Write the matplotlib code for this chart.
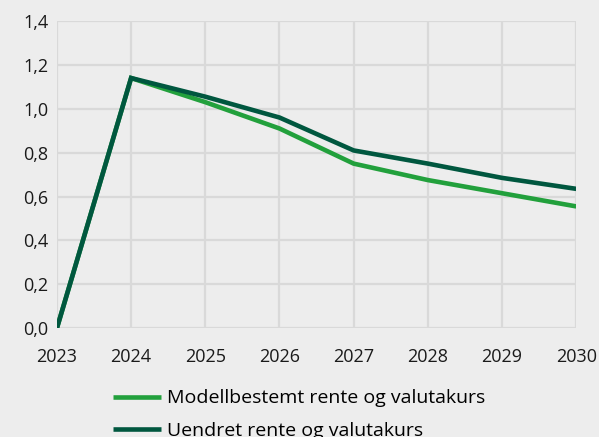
import numpy as np
import matplotlib.pyplot as plt

plt.rcParams['font.family'] = ['Open Sans', 'DejaVu Sans']

years = [2023, 2024, 2025, 2026, 2027, 2028, 2029, 2030]
modell = [0.0, 1.14, 1.03, 0.91, 0.75, 0.675, 0.615, 0.555]
uendret = [0.0, 1.14, 1.055, 0.96, 0.81, 0.75, 0.685, 0.635]
yticks = [0.0, 0.2, 0.4, 0.6, 0.8, 1.0, 1.2, 1.4]

bg = '#ededed'
fig = plt.figure(figsize=(5.99, 4.37), dpi=100, facecolor=bg)
ax = fig.add_axes([0.095, 0.249, 0.867, 0.703], facecolor=bg)

ax.plot(years, modell, color='#22a03c', lw=3.3, label='Modellbestemt rente og valutakurs',
        solid_joinstyle='miter', solid_capstyle='butt', zorder=3)
ax.plot(years, uendret, color='#00573f', lw=3.3, label='Uendret rente og valutakurs',
        solid_joinstyle='miter', solid_capstyle='butt', zorder=4)

ax.set_xlim(2023, 2030)
ax.set_ylim(0, 1.4)
ax.set_xticks(years)
ax.set_yticks(yticks)
ax.set_yticklabels([f'{v:.1f}'.replace('.', ',') for v in yticks])
ax.grid(True, color='#d9d9d9', lw=1.6)
ax.set_axisbelow(True)
for s in ax.spines.values():
    s.set_visible(False)
ax.tick_params(length=0, labelsize=13, colors='#1a1a1a')
ax.tick_params(axis='x', pad=14)
ax.tick_params(axis='y', pad=6)

fig.legend(loc='upper left', bbox_to_anchor=(0.188, 0.109), frameon=False,
           fontsize=14, handlelength=2.5, handletextpad=0.3, labelspacing=0.75,
           borderaxespad=0, borderpad=0)

fig.savefig('out.png', dpi=100, facecolor=bg)
